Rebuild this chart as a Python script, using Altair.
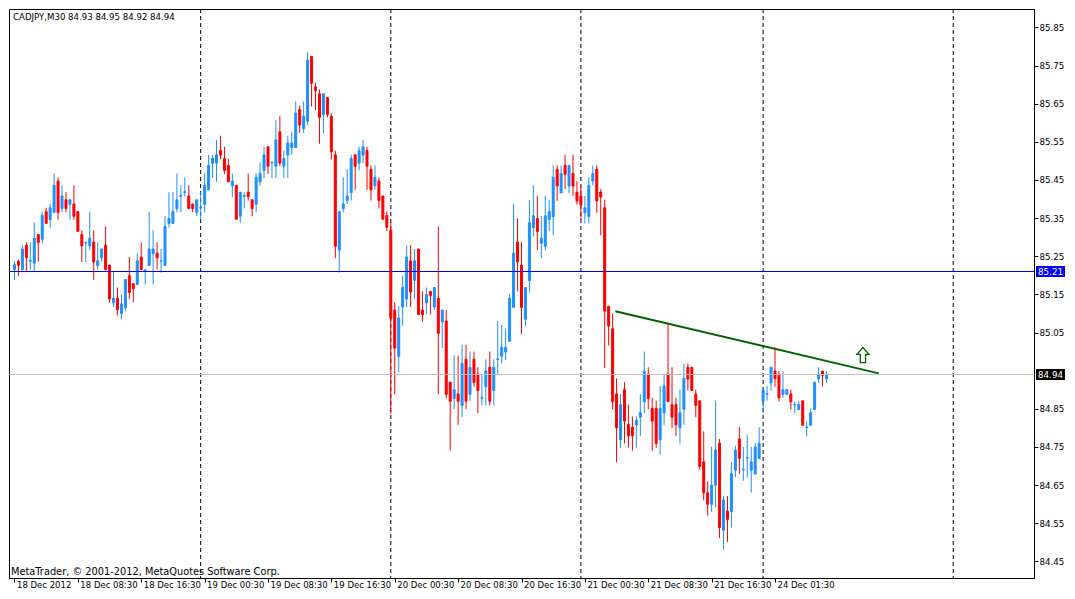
import altair as alt
import numpy as np
import pandas as pd

# ---------------- data (CADJPY M30, bars from 18 Dec 00:30) ----------------
opens = [
    85.215, 85.237, 85.215, 85.279, 85.237, 85.232, 85.307, 85.294, 85.367, 85.346,
    85.365, 85.447, 85.375, 85.398, 85.386, 85.387, 85.367, 85.307, 85.285, 85.277,
    85.287, 85.226, 85.246, 85.279, 85.227, 85.128, 85.140, 85.100, 85.115, 85.199,
    85.178, 85.176, 85.248, 85.211, 85.226, 85.257, 85.258, 85.237, 85.226, 85.336,
    85.336, 85.375, 85.407, 85.417, 85.408, 85.387, 85.365, 85.376, 85.386, 85.424,
    85.494, 85.494, 85.527, 85.506, 85.488, 85.435, 85.436, 85.355, 85.407, 85.418,
    85.398, 85.386, 85.445, 85.475, 85.537, 85.495, 85.486, 85.576, 85.486, 85.515,
    85.535, 85.535, 85.635, 85.584, 85.604, 85.774, 85.694, 85.676, 85.622, 85.666,
    85.617, 85.516, 85.266, 85.375, 85.396, 85.417, 85.516, 85.494, 85.515, 85.527,
    85.478, 85.435, 85.447, 85.408, 85.357, 85.318, 85.109, 84.988, 85.117, 85.138,
    85.238, 85.187, 85.269, 85.109, 85.128, 85.158, 85.117, 85.140, 85.078, 85.080,
    84.920, 84.877, 84.889, 84.859, 84.980, 84.888, 84.980, 84.941, 84.878, 84.908,
    84.959, 84.898, 84.979, 84.988, 84.999, 85.027, 85.116, 85.287, 85.227, 85.085,
    85.186, 85.325, 85.349, 85.284, 85.276, 85.346, 85.354, 85.478, 85.416, 85.488,
    85.434, 85.467, 85.418, 85.408, 85.364, 85.354, 85.447, 85.478, 85.418, 85.377,
    85.119, 85.060, 84.889, 84.769, 84.900, 84.809, 84.802, 84.808, 84.828, 84.869,
    84.941, 84.851, 84.851, 84.769, 84.839, 84.941, 84.861, 84.861, 84.800, 84.849,
    84.959, 84.959, 84.889, 84.871, 84.711, 84.630, 84.600, 84.650, 84.760, 84.532,
    84.582, 84.581, 84.689, 84.771, 84.690, 84.721, 84.689, 84.679, 84.720, 84.869,
    84.888, 84.918, 84.949, 84.941, 84.888, 84.888, 84.889, 84.860, 84.848, 84.871,
    84.801, 84.807, 84.848, 84.929, 84.949, 84.929,
]
highs = [
    85.237, 85.240, 85.279, 85.287, 85.287, 85.338, 85.307, 85.367, 85.377, 85.387,
    85.467, 85.457, 85.436, 85.418, 85.398, 85.436, 85.367, 85.318, 85.287, 85.367,
    85.318, 85.287, 85.269, 85.328, 85.227, 85.211, 85.168, 85.150, 85.189, 85.248,
    85.178, 85.258, 85.287, 85.217, 85.367, 85.318, 85.287, 85.269, 85.356, 85.418,
    85.418, 85.467, 85.436, 85.457, 85.436, 85.387, 85.398, 85.418, 85.467, 85.516,
    85.516, 85.555, 85.566, 85.537, 85.506, 85.467, 85.436, 85.418, 85.418, 85.467,
    85.398, 85.467, 85.496, 85.537, 85.537, 85.497, 85.607, 85.617, 85.527, 85.566,
    85.576, 85.656, 85.645, 85.656, 85.785, 85.774, 85.705, 85.687, 85.676, 85.666,
    85.625, 85.527, 85.367, 85.457, 85.478, 85.516, 85.516, 85.537, 85.555, 85.537,
    85.488, 85.488, 85.457, 85.408, 85.367, 85.338, 85.130, 85.119, 85.199, 85.279,
    85.279, 85.269, 85.269, 85.158, 85.168, 85.158, 85.168, 85.328, 85.109, 85.109,
    84.920, 84.990, 84.990, 85.018, 85.018, 85.000, 85.000, 84.959, 84.941, 84.980,
    85.000, 84.980, 85.080, 85.070, 85.060, 85.150, 85.387, 85.349, 85.287, 85.168,
    85.398, 85.436, 85.408, 85.356, 85.408, 85.398, 85.488, 85.488, 85.488, 85.516,
    85.488, 85.516, 85.447, 85.434, 85.408, 85.457, 85.488, 85.488, 85.426, 85.398,
    85.119, 85.100, 84.930, 84.889, 84.920, 84.861, 84.830, 84.830, 84.889, 85.000,
    84.959, 84.879, 84.871, 84.910, 84.941, 85.072, 84.959, 84.879, 84.900, 84.969,
    84.969, 84.959, 84.900, 84.871, 84.791, 84.660, 84.751, 84.871, 84.771, 84.621,
    84.621, 84.711, 84.753, 84.802, 84.750, 84.781, 84.750, 84.760, 84.802, 84.900,
    84.910, 84.959, 85.011, 84.949, 84.949, 84.900, 84.900, 84.869, 84.871, 84.871,
    84.817, 84.851, 84.920, 84.959, 84.949, 84.949,
]
lows = [
    85.188, 85.198, 85.213, 85.208, 85.215, 85.208, 85.236, 85.284, 85.334, 85.325,
    85.365, 85.346, 85.365, 85.365, 85.346, 85.346, 85.315, 85.235, 85.235, 85.267,
    85.188, 85.215, 85.236, 85.213, 85.128, 85.117, 85.095, 85.085, 85.105, 85.138,
    85.130, 85.176, 85.215, 85.176, 85.226, 85.176, 85.215, 85.207, 85.226, 85.325,
    85.336, 85.365, 85.365, 85.406, 85.375, 85.365, 85.355, 85.346, 85.365, 85.424,
    85.456, 85.445, 85.504, 85.465, 85.445, 85.405, 85.347, 85.337, 85.375, 85.396,
    85.355, 85.365, 85.435, 85.455, 85.466, 85.455, 85.455, 85.486, 85.455, 85.455,
    85.516, 85.535, 85.573, 85.573, 85.594, 85.643, 85.633, 85.545, 85.573, 85.614,
    85.504, 85.245, 85.207, 85.365, 85.386, 85.396, 85.424, 85.475, 85.494, 85.424,
    85.396, 85.424, 85.375, 85.347, 85.316, 84.837, 84.888, 84.946, 85.068, 85.117,
    85.117, 85.138, 85.097, 85.078, 85.098, 85.097, 85.109, 84.888, 85.009, 84.877,
    84.741, 84.849, 84.808, 84.828, 84.849, 84.870, 84.908, 84.839, 84.859, 84.859,
    84.859, 84.859, 84.939, 84.969, 84.978, 85.027, 85.116, 85.158, 85.047, 85.067,
    85.155, 85.302, 85.266, 85.245, 85.266, 85.315, 85.305, 85.395, 85.416, 85.426,
    85.416, 85.408, 85.385, 85.346, 85.336, 85.336, 85.436, 85.364, 85.305, 84.957,
    85.016, 84.848, 84.710, 84.748, 84.759, 84.748, 84.740, 84.748, 84.779, 84.839,
    84.849, 84.740, 84.748, 84.730, 84.808, 84.869, 84.800, 84.779, 84.759, 84.808,
    84.898, 84.898, 84.828, 84.691, 84.610, 84.570, 84.580, 84.591, 84.511, 84.480,
    84.501, 84.539, 84.671, 84.679, 84.661, 84.671, 84.630, 84.679, 84.720, 84.838,
    84.871, 84.897, 84.908, 84.869, 84.879, 84.888, 84.848, 84.838, 84.848, 84.807,
    84.778, 84.807, 84.848, 84.918, 84.908, 84.918,
]
closes = [
    85.228, 85.226, 85.269, 85.246, 85.239, 85.297, 85.286, 85.357, 85.336, 85.377,
    85.436, 85.365, 85.408, 85.375, 85.398, 85.355, 85.315, 85.277, 85.287, 85.297,
    85.235, 85.238, 85.269, 85.215, 85.138, 85.140, 85.110, 85.125, 85.189, 85.155,
    85.165, 85.238, 85.215, 85.214, 85.269, 85.269, 85.246, 85.238, 85.328, 85.349,
    85.367, 85.398, 85.409, 85.419, 85.375, 85.375, 85.398, 85.378, 85.436, 85.488,
    85.507, 85.516, 85.515, 85.475, 85.445, 85.447, 85.347, 85.418, 85.409, 85.406,
    85.375, 85.457, 85.467, 85.516, 85.486, 85.497, 85.555, 85.494, 85.506, 85.547,
    85.547, 85.625, 85.594, 85.617, 85.764, 85.703, 85.684, 85.614, 85.676, 85.622,
    85.524, 85.276, 85.367, 85.387, 85.408, 85.506, 85.486, 85.527, 85.537, 85.486,
    85.424, 85.457, 85.396, 85.347, 85.326, 85.087, 85.009, 85.088, 85.168, 85.248,
    85.156, 85.238, 85.097, 85.097, 85.150, 85.147, 85.168, 85.048, 85.109, 84.888,
    84.870, 84.900, 84.870, 84.969, 84.870, 84.959, 84.919, 84.898, 84.880, 84.949,
    84.870, 84.959, 84.981, 85.011, 85.011, 85.140, 85.258, 85.235, 85.116, 85.168,
    85.338, 85.356, 85.315, 85.297, 85.356, 85.367, 85.457, 85.434, 85.467, 85.465,
    85.488, 85.434, 85.395, 85.385, 85.377, 85.436, 85.467, 85.395, 85.405, 85.106,
    85.067, 84.869, 84.800, 84.861, 84.818, 84.779, 84.779, 84.820, 84.840, 84.949,
    84.877, 84.818, 84.759, 84.851, 84.910, 84.869, 84.828, 84.808, 84.840, 84.930,
    84.928, 84.898, 84.859, 84.699, 84.630, 84.600, 84.650, 84.742, 84.539, 84.611,
    84.560, 84.680, 84.742, 84.720, 84.692, 84.722, 84.711, 84.750, 84.760, 84.900,
    84.890, 84.959, 84.929, 84.879, 84.900, 84.900, 84.869, 84.862, 84.861, 84.807,
    84.802, 84.840, 84.920, 84.941, 84.938, 84.941,
]

x_tick_index = [1, 17, 33, 49, 65, 81, 97, 113, 129, 145, 161, 177, 193]
x_tick_labels = [
    "18 Dec 2012", "18 Dec 08:30", "18 Dec 16:30", "19 Dec 00:30", "19 Dec 08:30",
    "19 Dec 16:30", "20 Dec 00:30", "20 Dec 08:30", "20 Dec 16:30", "21 Dec 00:30",
    "21 Dec 08:30", "21 Dec 16:30", "24 Dec 01:30",
]
price_ticks = [84.45, 84.55, 84.65, 84.75, 84.85, 85.05, 85.15, 85.25,
               85.35, 85.45, 85.55, 85.65, 85.75, 85.85]
day_breaks = [48, 96, 144, 190, 238]
hline_price = [85.21]
bid_price = [84.94]
trend_x = [152.7]
trend_y = [85.106]
trend_x2 = [219.2]
trend_y2 = [84.943]
arrow_x = [215.2]
arrow_y = [84.991]
box_prices = [85.21, 84.94]
box_labels = ["85.21", "84.94"]
box_colors = ["#0000FF", "#000000"]
title_text = ["CADJPY,M30  84.93 84.95 84.92 84.94"]
footer_text = ["MetaTrader, \u00a9 2001-2012, MetaQuotes Software Corp."]

# ---------------- chart ----------------
W, H = 1025, 569
FONT = "DejaVu Sans"

n = len(opens)
assert len(highs) == n and len(lows) == n and len(closes) == n
df = pd.DataFrame({
    "i": list(range(1, n + 1)),
    "open": opens, "high": highs, "low": lows, "close": closes,
})
df["dir"] = np.where(df["close"] >= df["open"], "up", "down")

xscale = alt.Scale(domain=[0.875, 257.125], nice=False, zero=False)
yscale = alt.Scale(domain=[84.40656, 85.89812], nice=False, zero=False)
dir_scale = alt.Scale(domain=["up", "down"], range=["#1E90FF", "#FF0000"])

label_array = "[" + ",".join("'" + s + "'" for s in x_tick_labels) + "]"
x_axis = alt.Axis(
    values=x_tick_index,
    labelExpr=label_array + "[round((datum.value - 1) / 16)]",
    title=None, grid=False, tickSize=4, labelAlign="left", labelBaseline="top",
    labelPadding=-2, labelOffset=2, labelFont=FONT, labelFontSize=8.5,
    labelColor="black", tickColor="black", domainColor="black",
    labelOverlap=False, labelFlush=False, labelBound=False,
)
y_axis = alt.Axis(
    orient="right", values=price_ticks, format=".2f", title=None, grid=False,
    tickSize=4, labelPadding=1, labelFont=FONT, labelFontSize=8.7,
    labelColor="black", tickColor="black", domainColor="black",
    labelOverlap=False, labelFlush=False, labelAlign="left",
)

base = alt.Chart(df)

days = alt.Chart(pd.DataFrame({"i": day_breaks})).mark_rule(
    color="black", strokeWidth=1, strokeDash=[4, 3]
).encode(x=alt.X("i:Q", scale=xscale, axis=x_axis))

wicks = base.mark_rule(strokeWidth=1).encode(
    x=alt.X("i:Q", scale=xscale, axis=x_axis),
    y=alt.Y("low:Q", scale=yscale, axis=y_axis),
    y2="high:Q",
    color=alt.Color("dir:N", scale=dir_scale, legend=None),
)

bodies = base.mark_bar(width=2, strokeWidth=1).encode(
    x=alt.X("i:Q", scale=xscale),
    y=alt.Y("open:Q", scale=yscale),
    y2="close:Q",
    fill=alt.Fill("dir:N", scale=dir_scale, legend=None),
    stroke=alt.Stroke("dir:N", scale=dir_scale, legend=None),
)

hline = alt.Chart(pd.DataFrame({"p": hline_price})).mark_rule(
    color="#0000FF", strokeWidth=1
).encode(y=alt.Y("p:Q", scale=yscale))

bid = alt.Chart(pd.DataFrame({"p": bid_price})).mark_rule(
    color="#C0C0C0", strokeWidth=1
).encode(y=alt.Y("p:Q", scale=yscale))

trend = alt.Chart(pd.DataFrame({"x": trend_x, "y": trend_y, "x2": trend_x2, "y2": trend_y2})).mark_rule(
    color="#006400", strokeWidth=2
).encode(
    x=alt.X("x:Q", scale=xscale), y=alt.Y("y:Q", scale=yscale), x2="x2:Q", y2="y2:Q"
)

arrow_path = "M0,-1 L0.8,-0.1 L0.35,-0.1 L0.35,1 L-0.35,1 L-0.35,-0.1 L-0.8,-0.1 Z"
arrow = alt.Chart(pd.DataFrame({"x": arrow_x, "y": arrow_y})).mark_point(
    shape=arrow_path, filled=True, fill="white", stroke="#006400",
    strokeWidth=1.3, size=225, opacity=1,
).encode(x=alt.X("x:Q", scale=xscale), y=alt.Y("y:Q", scale=yscale))

box_df = pd.DataFrame({"p": box_prices, "label": box_labels, "bg": box_colors})
boxes = alt.Chart(box_df).mark_tick(orient="horizontal", thickness=11, opacity=1).encode(
    y=alt.Y("p:Q", scale=yscale),
    x=alt.value(W + 16.5),
    size=alt.value(29),
    color=alt.Color("bg:N", scale=None),
)
box_text = alt.Chart(box_df).mark_text(
    color="white", font=FONT, fontSize=8.7, align="center", baseline="middle"
).encode(y=alt.Y("p:Q", scale=yscale), x=alt.value(W + 16.5), text="label:N")

title = alt.Chart(pd.DataFrame({"t": title_text})).mark_text(
    align="left", baseline="top", font=FONT, fontSize=8.6, color="black"
).encode(x=alt.value(4), y=alt.value(4), text="t:N")

footer = alt.Chart(pd.DataFrame({"t": footer_text})).mark_text(
    align="left", baseline="alphabetic", font=FONT, fontSize=9.8, color="black"
).encode(x=alt.value(2), y=alt.value(H - 3), text="t:N")

chart = alt.layer(
    days, wicks, bodies, hline, bid, trend, arrow, boxes, box_text, title, footer
).properties(
    width=W, height=H, padding={"left": 0, "top": 0, "right": 0, "bottom": 0},
    background="white",
).configure_view(stroke="black", strokeWidth=1)

chart.save("out.html", embed_options={"renderer": "svg", "actions": False})
